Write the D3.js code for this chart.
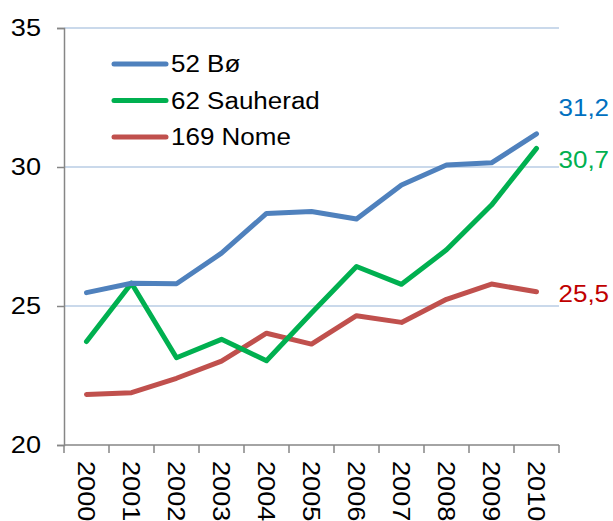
<!DOCTYPE html>
<html>
<head>
<meta charset="utf-8">
<script src="https://cdn.jsdelivr.net/npm/d3@7"></script>
<style>
  body { margin: 0; background: #fff; }
  text { font-family: "Liberation Sans", Arial, sans-serif; }
</style>
</head>
<body>
<svg id="line-chart" width="613" height="521"></svg>
<script>
// data
var years = ["2000","2001","2002","2003","2004","2005","2006","2007","2008","2009","2010"];
var seriesNames = ["52 Bø", "62 Sauherad", "169 Nome"];
var bo       = [25.48, 25.82, 25.80, 26.90, 28.33, 28.40, 28.13, 29.35, 30.07, 30.15, 31.19];
var sauherad = [23.72, 25.82, 23.14, 23.80, 23.03, 24.75, 26.42, 25.78, 27.02, 28.63, 30.67];
var nome     = [21.82, 21.88, 22.40, 23.02, 24.02, 23.63, 24.65, 24.41, 25.24, 25.79, 25.51];
var endLabels = ["31,2", "30,7", "25,5"];
var yTicks = [20, 25, 30, 35];

var lineColors = ["#4f81bd", "#00b050", "#c0504d"];
var labelColors = ["#0070c0", "#00b050", "#c00000"];

(function () {
    var svg = d3.select("#line-chart");
    var plotLeft = 64, plotRight = 559, plotTop = 28, plotBottom = 445;
    var stretch = 1.13; // the original font runs a bit wider than Arial

    // text placed at (tx,ty), optionally rotated, widened along its own baseline
    function wideText(parent, tx, ty, rot) {
        var g = parent.append("g")
            .attr("transform", "translate(" + tx + "," + ty + ")" + (rot ? " rotate(" + rot + ")" : ""));
        return g.append("text").attr("transform", "scale(" + stretch + ",1)");
    }

    var x = d3.scaleBand().domain(years).range([plotLeft, plotRight]);
    var y = d3.scaleLinear().domain([20, 35]).range([plotBottom, plotTop]);

    // gridlines
    svg.append("g").selectAll("line")
        .data(yTicks.filter(function(t){ return t > 20; }))
        .enter().append("line")
        .attr("x1", plotLeft).attr("x2", plotRight)
        .attr("y1", function(d){ return y(d); })
        .attr("y2", function(d){ return y(d); })
        .attr("stroke", "#b9cde5")
        .attr("stroke-width", 1.5);

    // y axis
    var yAxis = d3.axisLeft(y).tickValues(yTicks).tickSize(7).tickPadding(16);
    var gy = svg.append("g").attr("transform", "translate(" + plotLeft + ",0)").call(yAxis);
    gy.select(".domain").attr("stroke", "#868686").attr("stroke-width", 1.5);
    gy.selectAll(".tick line").attr("stroke", "#868686").attr("stroke-width", 1.5);
    gy.selectAll("text")
        .attr("x", -23 / stretch)
        .attr("transform", "scale(" + stretch + ",1)")
        .attr("font-size", "24px").attr("fill", "#000")
        .style("font-family", "Liberation Sans, Arial, sans-serif");

    // x axis: ticks on band edges
    var edges = years.map(function(d){ return x(d); }).concat([plotRight]);
    var gx = svg.append("g");
    gx.append("line")
        .attr("x1", plotLeft).attr("x2", plotRight)
        .attr("y1", plotBottom).attr("y2", plotBottom)
        .attr("stroke", "#868686").attr("stroke-width", 1.5);
    gx.selectAll(".edge").data(edges).enter().append("line")
        .attr("class", "edge")
        .attr("x1", function(d){ return d; }).attr("x2", function(d){ return d; })
        .attr("y1", plotBottom).attr("y2", plotBottom + 8)
        .attr("stroke", "#868686").attr("stroke-width", 1.5);
    years.forEach(function(yr){
        wideText(gx, x(yr) + x.bandwidth() / 2, plotBottom + 16, 90)
            .attr("dy", "0.35em")
            .attr("font-size", "24px")
            .text(yr);
    });

    // lines
    var allSeries = [bo, sauherad, nome];
    var line = d3.line()
        .x(function(d, i){ return x(years[i]) + x.bandwidth() / 2; })
        .y(function(d){ return y(d); });

    // nome first so blue/green sit on top
    [2, 1, 0].forEach(function(s){
        svg.append("path")
            .attr("d", line(allSeries[s]))
            .attr("fill", "none")
            .attr("stroke", lineColors[s])
            .attr("stroke-width", 5)
            .attr("stroke-linecap", "round")
            .attr("stroke-linejoin", "round");
    });

    // end value labels
    var lastX = x(years[years.length - 1]) + x.bandwidth() / 2;
    var labelY = [y(bo[10]) - 26, y(sauherad[10]) + 12, y(nome[10]) + 2];
    endLabels.forEach(function(t, s){
        wideText(svg, lastX + 22, labelY[s])
            .attr("dy", "0.35em")
            .attr("font-size", "23px")
            .attr("fill", labelColors[s])
            .text(t);
    });

    // legend
    var legend = svg.append("g");
    seriesNames.forEach(function(n, s){
        var ly = 64 + s * 36.5;
        legend.append("line")
            .attr("x1", 114).attr("x2", 166)
            .attr("y1", ly).attr("y2", ly)
            .attr("stroke", lineColors[s])
            .attr("stroke-width", 5)
            .attr("stroke-linecap", "round");
        wideText(legend, 171, ly)
            .attr("dy", "0.35em")
            .attr("font-size", "23px")
            .text(n);
    });
})();
</script>
</body>
</html>
